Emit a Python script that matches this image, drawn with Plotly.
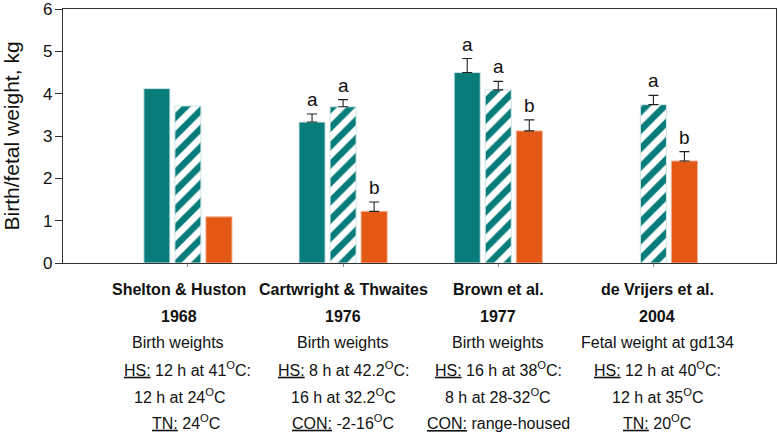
import plotly.graph_objects as go

studies = ["Shelton & Huston", "Cartwright & Thwaites", "Brown et al.", "de Vrijers et al."]
years = ["1968", "1976", "1977", "2004"]
measures = ["Birth weights", "Birth weights", "Birth weights", "Fetal weight at gd134"]
hs_line1 = ["<u>HS:</u> 12 h at 41<sup>O</sup>C:", "<u>HS:</u> 8 h at 42.2<sup>O</sup>C:",
            "<u>HS:</u> 16 h at 38<sup>O</sup>C:", "<u>HS:</u> 12 h at 40<sup>O</sup>C:"]
hs_line2 = ["12 h at 24<sup>O</sup>C", "16 h at 32.2<sup>O</sup>C",
            "8 h at 28-32<sup>O</sup>C", "12 h at 35<sup>O</sup>C"]
control = ["<u>TN:</u> 24<sup>O</sup>C", "<u>CON:</u> -2-16<sup>O</sup>C",
           "<u>CON:</u> range-housed", "<u>TN:</u> 20<sup>O</sup>C"]

solid_vals = [4.12, 3.33, 4.50, None]
solid_err = [None, 0.19, 0.33, None]
solid_letters = ["", "a", "a", ""]

hatch_vals = [3.71, 3.69, 4.09, 3.74]
hatch_err = [None, 0.17, 0.20, 0.22]
hatch_letters = ["", "a", "a", "a"]

orange_vals = [1.09, 1.22, 3.12, 2.41]
orange_err = [None, 0.22, 0.26, 0.22]
orange_letters = ["", "b", "b", "b"]

TEAL = "#087C7A"
ORANGE = "#E25814"
FONT = "Liberation Sans, Arial, sans-serif"

xs = list(range(len(studies)))
offsets = [-0.2, 0.0, 0.2]

fig = go.Figure()

fig.add_trace(go.Bar(x=xs, y=solid_vals, marker=dict(color=TEAL, line=dict(color="#cfe6e5", width=1)),
                     showlegend=False))
fig.add_trace(go.Bar(x=xs, y=hatch_vals,
                     marker=dict(color="white", line=dict(color="#cfe6e5", width=1),
                                 pattern=dict(shape="/", fgcolor=TEAL, bgcolor="white",
                                              size=13, solidity=0.5, fillmode="replace")),
                     showlegend=False))
fig.add_trace(go.Bar(x=xs, y=orange_vals, marker=dict(color=ORANGE, line=dict(color="#f3b090", width=1)),
                     showlegend=False))

annotations = []
for off, vals, errs, letters in [(offsets[0], solid_vals, solid_err, solid_letters),
                                 (offsets[1], hatch_vals, hatch_err, hatch_letters),
                                 (offsets[2], orange_vals, orange_err, orange_letters)]:
    ex = [i + off for i in xs if errs[i] is not None and vals[i] is not None]
    ey = [vals[i] for i in xs if errs[i] is not None and vals[i] is not None]
    ee = [errs[i] for i in xs if errs[i] is not None and vals[i] is not None]
    fig.add_trace(go.Scatter(x=ex, y=ey, mode="markers", marker=dict(size=1, opacity=0),
                             error_y=dict(type="data", array=ee, arrayminus=[0] * len(ee),
                                          symmetric=False, color="#222", thickness=1.1, width=5),
                             showlegend=False, hoverinfo="skip"))
    for i, (v, e, l) in enumerate(zip(vals, errs, letters)):
        if l and v is not None:
            annotations.append(dict(x=i + off, y=v + (e or 0), xref="x", yref="y", text=l,
                                    showarrow=False, yanchor="bottom", yshift=2,
                                    font=dict(size=19, color="#111", family=FONT)))

plot_h = 254.0
line_pix = [289, 316, 343, 369.5, 396.5, 423]
label_xshift = [[-9, -9, -10, 0, -8, -2], [0] * 6, [0] * 6, [4] * 6]
for i in xs:
    lines = [f"<b>{studies[i]}</b>", f"<b>{years[i]}</b>", measures[i], hs_line1[i], hs_line2[i], control[i]]
    for j, (txt, yp) in enumerate(zip(lines, line_pix)):
        yshift = 1 if "<sup>" in txt else 0
        annotations.append(dict(x=i, y=-(yp - 263) / plot_h, xref="x", yref="paper", text=txt,
                                showarrow=False, yanchor="middle", xanchor="center", yshift=yshift,
                                xshift=label_xshift[i][j],
                                font=dict(size=16, color="#111", family=FONT)))

fig.update_layout(
    width=778, height=433,
    margin=dict(l=63, r=2, t=9, b=170, autoexpand=False),
    barmode="group", bargap=0.4, bargroupgap=0.16,
    plot_bgcolor="white", paper_bgcolor="white",
    font=dict(family=FONT, color="#111"),
    annotations=annotations,
    xaxis=dict(range=[-0.805, 3.79], tickvals=xs, showticklabels=False, ticks="outside",
               ticklen=3, tickcolor="#888", showgrid=False, zeroline=False,
               showline=True, linecolor="#333", linewidth=1.3, mirror=True),
    yaxis=dict(range=[0, 6], tickvals=[0, 1, 2, 3, 4, 5, 6], ticks="outside", ticklen=7,
               tickcolor="#333", tickfont=dict(size=17, family=FONT, color="#111"),
               ticklabeloverflow="allow", ticklabelstandoff=-1,
               showgrid=False, zeroline=False, showline=True, linecolor="#333", linewidth=1.3,
               mirror=True,
               title=dict(text="Birth/fetal weight, kg", font=dict(size=21, family=FONT, color="#111"),
                          standoff=17)),
)

fig.write_html("out.html", config={"displayModeBar": False},
               post_script="document.body.style.margin='0';document.body.style.padding='0';")
